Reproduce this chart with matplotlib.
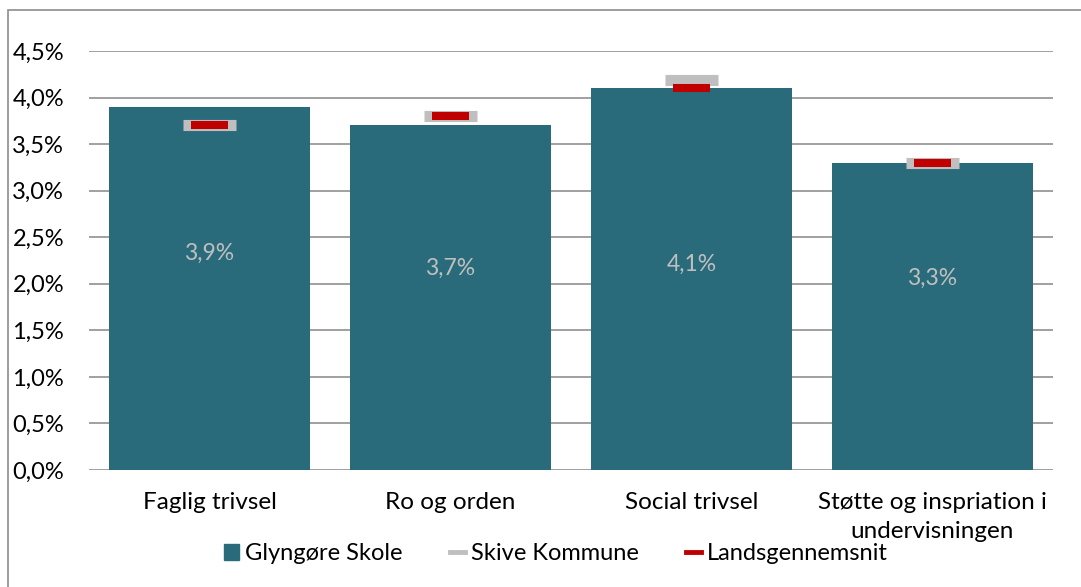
import matplotlib
matplotlib.use("Agg")
import matplotlib.pyplot as plt
from matplotlib.patches import Patch, Rectangle
from matplotlib.lines import Line2D
import numpy as np

plt.rcParams['font.family'] = ['Lato', 'DejaVu Sans']

categories = ["Faglig trivsel", "Ro og orden", "Social trivsel", "Støtte og inspriation i\nundervisningen"]
skole = [3.9, 3.7, 4.1, 3.3]          # Glyngøre Skole
kommune = [3.70, 3.80, 4.19, 3.30]    # Skive Kommune
land = [3.70, 3.80, 4.10, 3.30]       # Landsgennemsnit
label_y = [2.33, 2.17, 2.21, 2.06]    # where the value labels sit inside the bars
yticks = [0, 0.5, 1.0, 1.5, 2.0, 2.5, 3.0, 3.5, 4.0, 4.5]

teal = "#296B7B"
gray = "#BFBFBF"
red = "#C00000"
grid_c = "#989898"

fig = plt.figure(figsize=(10.81, 5.87), dpi=100)
ax = fig.add_axes([89/1081, 117/587, 964/1081, 419/587])

x = np.arange(len(categories))
ax.bar(x, skole, width=0.834, color=teal, zorder=2)

# markers for the comparison series
ax.hlines(kommune, x - 0.11, x + 0.11, colors=gray, linewidth=8, zorder=3, capstyle='butt')
ax.hlines(land, x - 0.077, x + 0.077, colors=red, linewidth=5.8, zorder=4, capstyle='butt')

for xi, v, ly in zip(x, skole, label_y):
    ax.text(xi, ly, f"{v:.1f}%".replace(".", ","), ha='center', va='center',
            color=gray, fontsize=16.5, zorder=5)

ax.set_xlim(-0.5, len(categories) - 0.5)
ax.set_ylim(0, 4.5)
ax.set_yticks(yticks)
ax.set_yticklabels([f"{t:.1f}%".replace(".", ",") for t in yticks], fontsize=17)
ax.set_xticks(x)
ax.set_xticklabels(categories, fontsize=17.5)
for lab in ax.get_xticklabels():
    lab.set_linespacing(1.45)
ax.tick_params(axis='y', length=0, pad=18)
ax.tick_params(axis='x', length=0, pad=16)
ax.grid(axis='y', color=grid_c, linewidth=1.3, zorder=0)
ax.set_axisbelow(True)
for s in ax.spines.values():
    s.set_visible(False)

# outer chart frame (cut off at right and bottom)
fig.patches.append(Rectangle((8/1081, -0.1), 1.2, 1 - 10/587 + 0.1, transform=fig.transFigure,
                             fill=False, edgecolor="#8C8C8C", linewidth=1.2))

handles = [
    Patch(facecolor=teal, edgecolor=teal),
    Line2D([0], [0], color=gray, linewidth=3.5),
    Line2D([0], [0], color=red, linewidth=3.5),
]
fig.legend(handles, ["Glyngøre Skole", "Skive Kommune", "Landsgennemsnit"],
           loc='center', bbox_to_anchor=(556/1081, 1 - 554/587), ncol=3, frameon=False,
           fontsize=17, handlelength=0.65, handleheight=0.65, handletextpad=0.25, columnspacing=2.0)

fig.savefig("out.png", dpi=100)
